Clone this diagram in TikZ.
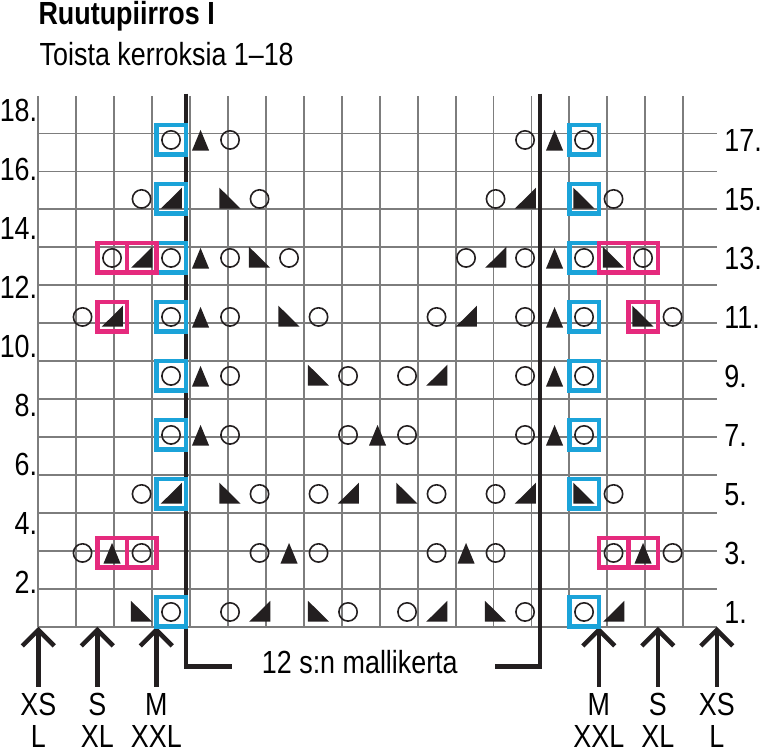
\documentclass[tikz,border=0pt]{standalone}
\usepackage{fontspec}
\setmainfont{Liberation Sans}[FakeStretch=0.84]
\usepackage{tikz}
\usetikzlibrary{arrows.meta,positioning}
\definecolor{gridgray}{RGB}{125,125,125}
\definecolor{ink}{RGB}{35,31,32}
\definecolor{boxblue}{RGB}{27,163,217}
\definecolor{boxpink}{RGB}{229,42,125}
\newcommand{\thicks}{3.4pt}
\newcommand{\chartfont}{\fontsize{24}{24}\selectfont}

\begin{document}
\begin{tikzpicture}[x=22.125pt,y=22.125pt,
    gridline/.style={draw=gridgray, line width=1.4pt},
    repline/.style={draw=ink, line width=\thicks},
    sizearrow/.style={draw=ink, line width=\thicks, -{Straight Barb[length=12pt,width=24pt]}},
    bluebox/.style={draw=boxblue, line width=\thicks},
    pinkbox/.style={draw=boxpink, line width=\thicks},
    yo/.style={draw=ink, line width=1.2pt},
    dec/.style={fill=ink},
    lbl/.style={inner sep=0pt, font=\chartfont}]
    \useasboundingbox (-1.298,-4.349) rectangle (24.532,21.244);
    %\draw[help lines] (0,0) grid (23,18);
    \node[lbl, anchor=base west, font=\chartfont\bfseries] (title) at (0,20.43) {Ruutupiirros I};
    \node[lbl, anchor=base west] (subtitle) at (0.04,19.04) {Toista kerroksia 1--18};
    \draw[gridline] (0,0) grid (23,18);
    % row numbers
    \foreach \r in {2,4,...,18}
        \node[lbl, anchor=base east] (left\r) at (-0.03,\r-0.86) {\r.};
    \foreach \r in {1,3,...,17}
        \node[lbl, anchor=base west] (right\r) at (23.25,\r-0.88) {\r.};
    % pattern repeat
    \coordinate (repa) at (5,18.07);
    \coordinate (repb) at (6.57,-1.356);
    \coordinate (repc) at (17,18.07);
    \coordinate (repd) at (15.48,-1.356);
    \draw[repline] (repa) |- (repb);
    \draw[repline] (repc) |- (repd);
    \node[lbl, anchor=base] (rep) at (10.9,-1.57) {12 s:n mallikerta};
    % sizes
    \foreach \c/\su/\sl in {0/XS/L,2/S/XL,4/M/XXL,19/M/XXL,21/S/XL,23/XS/L}{
        \coordinate (top\c) at (\c,0);
        \coordinate (foot\c) at (\c,-2.04);
        \draw[sizearrow] (foot\c) -- (top\c);
        \node[lbl, anchor=base] (su\c) at (\c,-2.993) {\su};
        \node[lbl, anchor=base] (sl\c) at (\c,-4.1) {\sl};
    }
    % size boxes
    \foreach \r in {1,5,7,9,11,13,15,17}{
        \draw[bluebox] (4,\r-1) rectangle (5,\r);
        \draw[bluebox] (18,\r-1) rectangle (19,\r);
    }
    \foreach \c/\r in {2/3,3/3,19/3,20/3,2/11,20/11,2/13,3/13,19/13,20/13}
        \draw[pinkbox] (\c,\r-1) rectangle (\c+1,\r);
    % yarn overs
    \foreach \c/\r in {4/17,6/17,16/17,18/17, 3/15,7/15,15/15,19/15,
        2/13,4/13,6/13,8/13,14/13,16/13,18/13,20/13,
        1/11,4/11,6/11,9/11,13/11,16/11,18/11,21/11,
        4/9,6/9,10/9,12/9,16/9,18/9, 4/7,6/7,10/7,12/7,16/7,18/7,
        3/5,7/5,9/5,13/5,15/5,19/5, 1/3,3/3,7/3,9/3,13/3,15/3,19/3,21/3,
        4/1,6/1,10/1,12/1,16/1,18/1}
        \draw[yo] (\c+0.5,\r-0.5) circle (0.31);
    % double decreases
    \foreach \c/\r in {5/17,17/17,5/13,17/13,5/11,17/11,5/9,17/9,5/7,11/7,17/7,2/3,8/3,14/3,20/3}
        \fill[dec] (\c+0.21,\r-0.86) -- (\c+0.79,\r-0.86) -- (\c+0.5,\r-0.16) -- cycle;
    % right-leaning
    \foreach \c/\r in {4/15,16/15,3/13,15/13,2/11,14/11,13/9,4/5,10/5,16/5,7/1,13/1,19/1}
        \fill[dec] (\c+0.15,\r-0.83) -- (\c+0.87,\r-0.83) -- (\c+0.87,\r-0.12) -- cycle;
    % left-leaning
    \foreach \c/\r in {6/15,18/15,7/13,19/13,8/11,20/11,9/9,6/5,12/5,18/5,3/1,9/1,15/1}
        \fill[dec] (\c+0.14,\r-0.12) -- (\c+0.14,\r-0.83) -- (\c+0.86,\r-0.83) -- cycle;
\end{tikzpicture}
\end{document}
